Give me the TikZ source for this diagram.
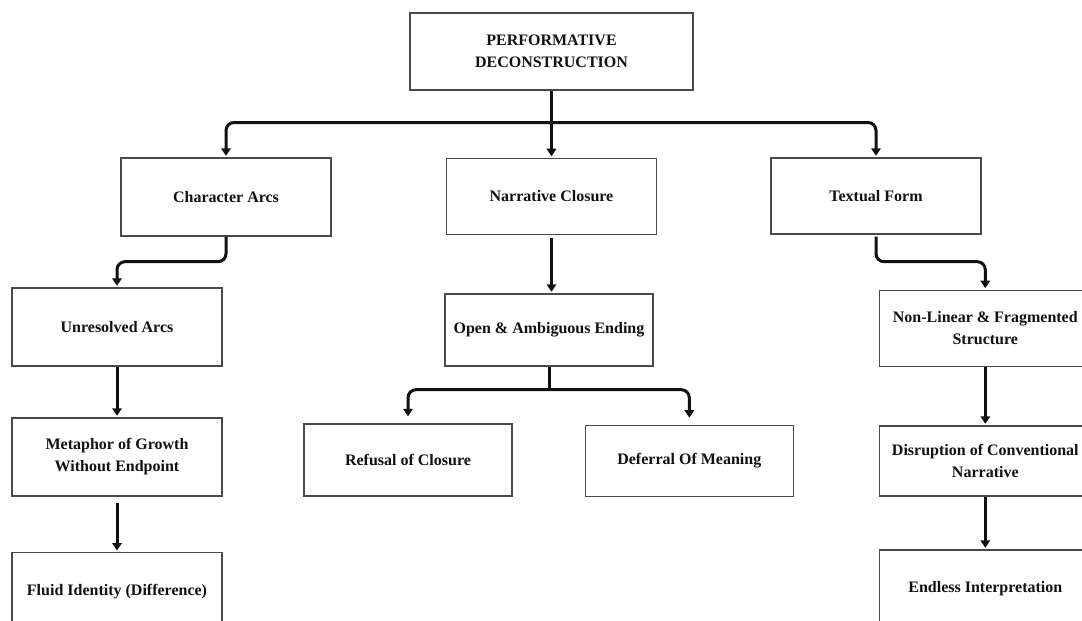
\documentclass[tikz,border=0pt]{standalone}
\usepackage{fontspec}
\setmainfont{Liberation Serif}
\usepackage{tikz}
\usepackage{xcolor}
\usetikzlibrary{arrows.meta,positioning,calc}
\definecolor{ink}{HTML}{111111}
\definecolor{frame}{HTML}{4A4A4A}

\begin{document}
\begin{tikzpicture}[x=1pt,y=-1pt,
  font=\fontsize{16}{22}\selectfont\bfseries,
  >={Triangle[width=9.5pt,length=7.5pt]},
  box/.style={draw=frame,line width=1.4pt,fill=white,text=ink,align=center,
              minimum width=210pt,minimum height=78pt,inner sep=2pt},
  conn/.style={->,draw=ink,line width=3pt,rounded corners=8pt,shorten >=1.5pt},
  link/.style={draw=ink,line width=3pt}]
  \useasboundingbox (0,0) rectangle (1082,621);
  \clip (0,0) rectangle (1082,621);
  % root and first level
  \node[box,minimum width=283pt,minimum height=77pt] (top) at (551.5,51.3)
    {PERFORMATIVE\\DECONSTRUCTION};
  \node[box,minimum height=78pt] (chars) at (226,197) {Character Arcs};
  \node[box,minimum height=76pt] (narr) at (551.5,196.4) {Narrative Closure};
  \node[box,minimum height=76pt] (textf) at (876,196) {Textual Form};
  % left branch
  \node[box] (unres) at (117,327) {Unresolved Arcs};
  \node[box] (metaph) at (117,457) {Metaphor of Growth\\Without Endpoint};
  \node[box] (fluid) at (117,591.7) {Fluid Identity (Difference)};
  % middle branch
  \node[box,minimum width=208pt,minimum height=72pt] (open) at (549,330) {Open \& Ambiguous Ending};
  \node[box,minimum width=208pt,minimum height=72pt] (refusal) at (408,460) {Refusal of Closure};
  \node[box,minimum width=208pt,minimum height=71pt] (deferral) at (689.3,460.9) {Deferral Of Meaning};
  % right branch
  \node[box,minimum width=212pt,minimum height=76pt] (nonlin) at (985.3,328.4) {Non-Linear \& Fragmented\\Structure};
  \node[box,minimum width=212pt,minimum height=70pt] (disrupt) at (985.3,461) {Disruption of Conventional\\Narrative};
  \node[box,minimum width=212pt] (endless) at (985.3,589) {Endless Interpretation};
  % connectors
  \coordinate (j1) at ($(top.south)+(0,32)$);
  \draw[conn] (top.south) -- (narr.north);
  \draw[conn] (j1) -| (chars.north);
  \draw[conn] (j1) -| (textf.north);
  \draw[conn] (chars.south) -- ++(0,25) -| (unres.north);
  \draw[conn] (unres.south) -- (metaph.north);
  \draw[conn] (metaph.south) ++(0,6) -- (fluid.north);
  \draw[conn] (narr.south) ++(0,3) -- (narr.south |- open.north);
  \coordinate (j2) at ($(open.south)+(0,23)$);
  \draw[link] (open.south) -- (j2);
  \draw[conn,shorten >=7pt] (j2) -| (refusal.north);
  \draw[conn,shorten >=7pt] (j2) -| (deferral.north);
  \draw[conn] (textf.south) ++(0,2) -- ++(0,25) -| (nonlin.north);
  \draw[conn] (nonlin.south) -- (disrupt.north);
  \draw[conn] (disrupt.south) -- (endless.north);
\end{tikzpicture}
\end{document}
